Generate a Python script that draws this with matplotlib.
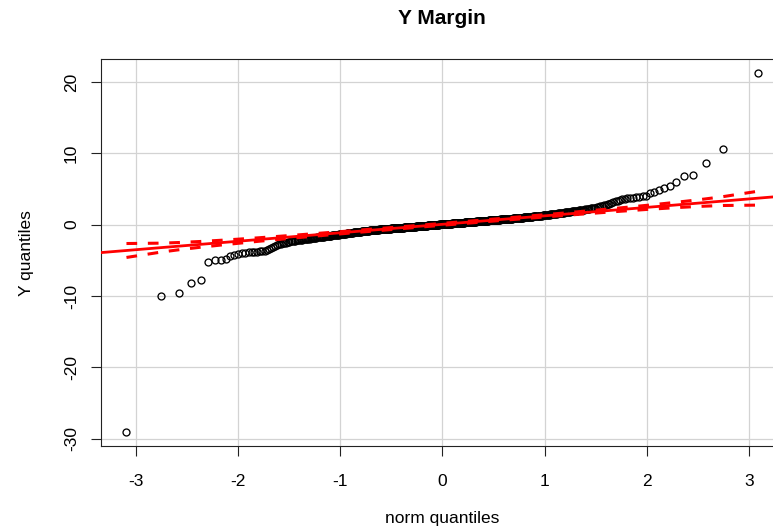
import numpy as np
import matplotlib
matplotlib.use("Agg")
import matplotlib.pyplot as plt
from statistics import NormalDist

# Sorted sample (Y margin residuals), split by region of the distribution
lower_tail = [-29.0, -10.0, -9.6, -8.2, -7.7, -5.3, -5.0, -4.9, -4.75, -4.4, -4.3]

lower_shoulder = [-4.05, -3.98, -3.92, -3.88, -3.85, -3.82, -3.79, -3.75, -3.71, -3.66,
                  -3.56, -3.40, -3.24, -3.10, -2.96, -2.84, -2.75, -2.67, -2.61, -2.55,
                  -2.50, -2.46, -2.41]

lower_body = [-2.35, -2.31, -2.28, -2.25, -2.21, -2.18,
              -2.15, -2.12, -2.09, -2.07, -2.04, -2.01, -1.99, -1.96,
              -1.94, -1.92, -1.90, -1.87, -1.85, -1.83, -1.81, -1.79, -1.77,
              -1.75, -1.73, -1.71, -1.69, -1.67, -1.65, -1.64, -1.62, -1.60, -1.58, -1.56,
              -1.54, -1.52, -1.50, -1.49, -1.47, -1.45, -1.43, -1.41, -1.40, -1.38, -1.36,
              -1.35, -1.33, -1.31, -1.30, -1.28, -1.27, -1.25, -1.24, -1.22, -1.20, -1.19,
              -1.17, -1.16,
              -1.15, -1.13, -1.12, -1.10, -1.09, -1.08, -1.06, -1.05, -1.04, -1.02, -1.01,
              -0.99, -0.98, -0.97,
              -0.96, -0.95, -0.93, -0.92, -0.91, -0.90, -0.89, -0.88, -0.87, -0.86, -0.84,
              -0.83, -0.82, -0.81, -0.80,
              -0.79, -0.78, -0.77, -0.76]

center_low = [-0.75, -0.74, -0.73, -0.72, -0.71, -0.70, -0.70, -0.69, -0.68, -0.67, -0.66, -0.65,
              -0.645, -0.64, -0.63, -0.62, -0.615, -0.61, -0.60, -0.595, -0.59, -0.58, -0.575,
              -0.57, -0.56, -0.555, -0.55, -0.545, -0.54,
              -0.535, -0.53, -0.52, -0.515, -0.51, -0.50, -0.495, -0.49, -0.48, -0.475, -0.47,
              -0.46, -0.455, -0.45, -0.445, -0.44, -0.435, -0.43,
              -0.425, -0.42, -0.41, -0.405, -0.40, -0.39, -0.385, -0.38, -0.37, -0.365, -0.36,
              -0.35, -0.345, -0.34, -0.335, -0.33, -0.325, -0.315, -0.31,
              -0.305, -0.30, -0.29, -0.285, -0.28, -0.27, -0.265, -0.26, -0.25, -0.245, -0.24,
              -0.23, -0.225, -0.22, -0.21, -0.205, -0.20, -0.195, -0.19,
              -0.185, -0.18, -0.17, -0.165, -0.16, -0.15, -0.145, -0.14, -0.13, -0.125, -0.12,
              -0.11, -0.105, -0.10, -0.095, -0.09, -0.08, -0.075, -0.07, -0.065,
              -0.06, -0.055, -0.05, -0.04, -0.035, -0.03, -0.025, -0.02, -0.01, -0.005, 0.0,
              0.005, 0.01, 0.02, 0.025, 0.03, 0.035, 0.04, 0.045, 0.05]

center_high = [0.055, 0.06, 0.065, 0.07, 0.08, 0.085, 0.09, 0.095, 0.10, 0.11, 0.115, 0.12,
               0.125, 0.13, 0.14, 0.145, 0.15, 0.155, 0.16, 0.165, 0.17,
               0.175, 0.18, 0.19, 0.195, 0.20, 0.21, 0.215, 0.22, 0.23, 0.235, 0.24, 0.25,
               0.255, 0.26, 0.265, 0.27, 0.275, 0.28, 0.285, 0.29,
               0.295, 0.30, 0.31, 0.315, 0.32, 0.33, 0.335, 0.34, 0.35, 0.355, 0.36, 0.37,
               0.375, 0.38, 0.385, 0.39, 0.395, 0.40, 0.41,
               0.415, 0.42, 0.43, 0.435, 0.44, 0.45, 0.455, 0.46, 0.47, 0.475, 0.48, 0.49,
               0.495, 0.50, 0.505, 0.51, 0.515, 0.52, 0.53,
               0.535, 0.54, 0.55, 0.555, 0.56, 0.57, 0.575, 0.58, 0.59, 0.595, 0.60, 0.61,
               0.615, 0.62, 0.63, 0.635, 0.64, 0.65,
               0.655, 0.66, 0.67, 0.675, 0.68, 0.69, 0.695, 0.70, 0.71, 0.72, 0.725, 0.73,
               0.74, 0.745, 0.75, 0.76, 0.765,
               0.77, 0.78, 0.785, 0.79, 0.80, 0.81, 0.815, 0.82, 0.83, 0.84, 0.845]

upper_body = [0.855, 0.86, 0.865, 0.87, 0.88,
              0.89, 0.90, 0.91, 0.92, 0.93, 0.94, 0.95, 0.955, 0.96, 0.97, 0.98, 0.99, 1.0,
              1.01, 1.02,
              1.03, 1.04, 1.05, 1.06, 1.07, 1.085, 1.095, 1.105, 1.115, 1.125, 1.135, 1.145,
              1.16, 1.17,
              1.18, 1.19, 1.20, 1.215, 1.23, 1.24, 1.25, 1.265, 1.28, 1.29, 1.30, 1.315, 1.33,
              1.345, 1.36, 1.375, 1.39, 1.41, 1.425, 1.44, 1.455, 1.47, 1.49, 1.51,
              1.53, 1.55, 1.57, 1.59, 1.61, 1.63, 1.65, 1.67, 1.69, 1.715, 1.74,
              1.76, 1.79, 1.81, 1.84, 1.86, 1.88, 1.90, 1.93, 1.95,
              1.98, 2.01, 2.04, 2.07, 2.10, 2.12, 2.15, 2.17,
              2.21, 2.24, 2.27, 2.30, 2.33]

upper_shoulder = [2.37, 2.42, 2.48, 2.55, 2.62, 2.70, 2.78, 2.86, 2.95, 3.05, 3.15, 3.25,
                  3.35, 3.45, 3.55, 3.62, 3.68, 3.74, 3.80, 3.85, 3.90, 3.95, 4.05]

upper_tail = [4.4, 4.6, 4.9, 5.2, 5.45, 6.0, 6.75, 6.98, 8.7, 10.66, 21.2]

x_ticks = [-3, -2, -1, 0, 1, 2, 3]
y_ticks = [-30, -20, -10, 0, 10, 20]
title = "Y Margin"
x_label = "norm quantiles"
y_label = "Y quantiles"
envelope = 0.95

y = np.sort(np.array(lower_tail + lower_shoulder + lower_body + center_low +
                     center_high + upper_body + upper_shoulder + upper_tail))
n = len(y)
nd = NormalDist()

# theoretical normal quantiles at plotting positions (ppoints)
a = 0.5 if n > 10 else 3 / 8
P = (np.arange(1, n + 1) - a) / (n + 1 - 2 * a)
z = np.array([nd.inv_cdf(p) for p in P])

# reference line through the quartiles
q1, q3 = np.quantile(y, [0.25, 0.75])
slope = (q3 - q1) / (nd.inv_cdf(0.75) - nd.inv_cdf(0.25))
intercept = q1 - slope * nd.inv_cdf(0.25)

# pointwise confidence envelope
zz = nd.inv_cdf(1 - (1 - envelope) / 2)
dens = np.array([nd.pdf(v) for v in z])
se = (slope / dens) * np.sqrt(P * (1 - P) / n)
fit = intercept + slope * z
upper = fit + zz * se
lower = fit - zz * se

W, H = 773, 530
fig = plt.figure(figsize=(W / 100, H / 100), dpi=100)
ax = fig.add_axes([101.2 / W, 1 - 446 / H, 682.2 / W, 387 / H])

xr = z.max() - z.min()
yr = y.max() - y.min()
ax.set_xlim(z.min() - 0.04 * xr, z.max() + 0.04 * xr)
ax.set_ylim(y.min() - 0.04 * yr, y.max() + 0.04 * yr)

ax.set_xticks(x_ticks)
ax.set_yticks(y_ticks)
ax.set_xticklabels([str(t) for t in x_ticks])
ax.set_yticklabels([str(t) for t in y_ticks])

ax.grid(True, color="#d3d3d3", linewidth=0.9, linestyle="-")
ax.set_axisbelow(True)

ax.plot(z, y, linestyle="none", marker="o", markersize=5.0, markerfacecolor="none",
        markeredgecolor="black", markeredgewidth=0.95, zorder=3)
red = "#ff0000"
ax.axline((0, intercept), slope=slope, color=red, linewidth=2.0, zorder=4)
ax.plot(z, upper, color=red, linewidth=2.2, linestyle=(0, (3.5, 3.5)), zorder=4)
ax.plot(z, lower, color=red, linewidth=2.2, linestyle=(0, (3.5, 3.5)), zorder=4)

for side in ("left", "bottom", "top", "right"):
    ax.spines[side].set_color("#222222")
    ax.spines[side].set_linewidth(0.8)

font = "Liberation Sans"
ax.tick_params(axis="both", direction="out", length=7, width=0.8, color="#222222",
               labelsize=12.5, labelcolor="black")
ax.tick_params(axis="x", pad=13)
ax.tick_params(axis="y", pad=9, labelrotation=90)
for lab in ax.get_xticklabels() + ax.get_yticklabels():
    lab.set_fontfamily(font)
for lab in ax.get_yticklabels():
    lab.set_verticalalignment("center")

cx = (101.2 + 682.2 / 2) / W
fig.text(cx, 1 - 19 / H, title, ha="center", va="center", fontsize=15,
         fontweight="bold", family=font)
fig.text(cx, 1 - 518 / H, x_label, ha="center", va="center", fontsize=12.5, family=font)
fig.text(27 / W, 1 - 253 / H, y_label, ha="center", va="center", rotation=90,
         fontsize=12.5, family=font)

fig.savefig("out.png", dpi=100)
